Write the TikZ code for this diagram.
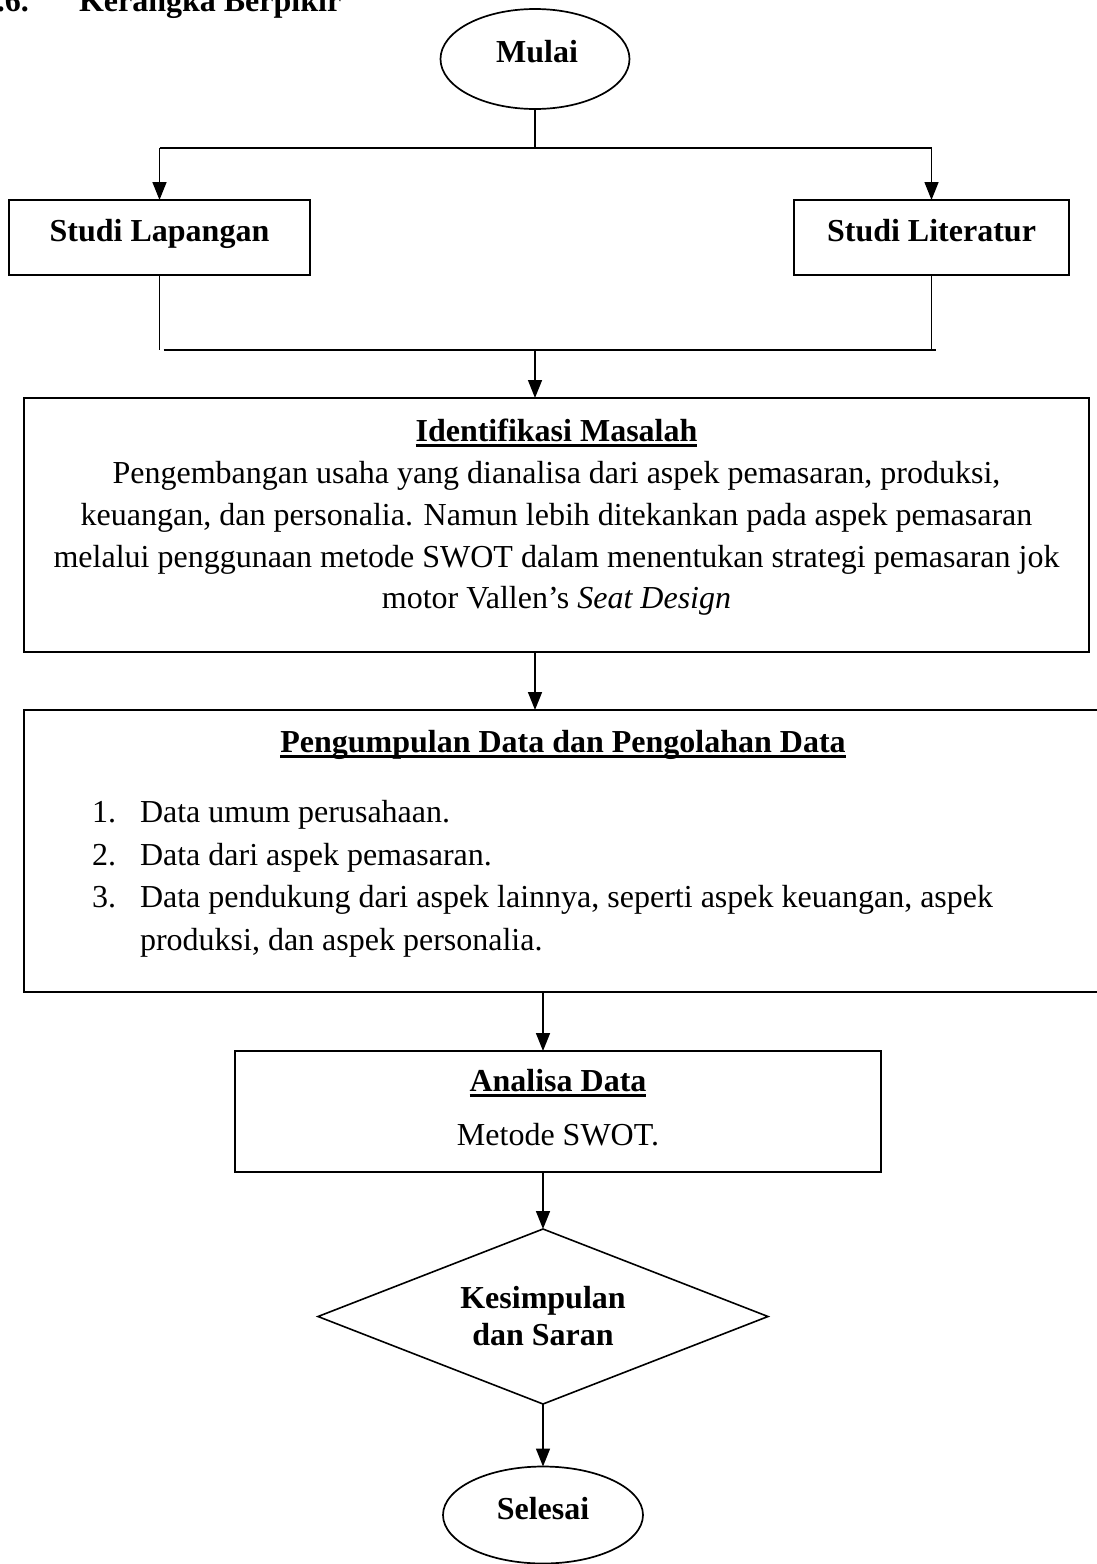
\documentclass[tikz,border=0pt]{standalone}
\usepackage{fontspec}
\setmainfont{Liberation Serif}
\usetikzlibrary{arrows.meta,shapes.geometric}
% underline drawn as a thick rule under the word box
\newcommand{\ulbox}[1]{\setbox0\hbox{#1}\rlap{\rule[-5.5pt]{\wd0}{2.6pt}}\box0}
\begin{document}
\begin{tikzpicture}[x=1pt,y=-1pt,
  every node/.style={inner sep=0pt, outer sep=0pt},
  txt/.style={font=\fontsize{32}{42}\selectfont, anchor=base},
  txtb/.style={font=\fontsize{32}{42}\selectfont\bfseries, anchor=base},
  rectbox/.style={draw, rectangle, line width=2.1pt},
  ovalbox/.style={draw, ellipse, line width=1.7pt},
  decbox/.style={draw, diamond, line width=1.6pt},
  link/.style={line width=1.5pt},
  arrow/.style={line width=1.5pt, -{Triangle[length=18pt,width=14pt]}}]

\useasboundingbox (0,0) rectangle (1096,1564);

% heading
\node[txtb, anchor=base west] (hnum) at (-19,11) {2.6.};
\node[txtb, anchor=base west] (htitle) at (79,11) {Kerangka Berpikir};

% start
\node[ovalbox, minimum width=189pt, minimum height=100pt] (mulai) at (535,59) {};
\node[txtb] (mulaitx) at (537,62) {Mulai};

% two studies
\node[rectbox, minimum width=301pt, minimum height=75pt] (lap) at (159.5,237.5) {};
\node[txtb] (laptx) at (159.5,241) {Studi Lapangan};
\node[rectbox, minimum width=275pt, minimum height=75pt] (lit) at (931.5,237.5) {};
\node[txtb] (littx) at (931.5,241) {Studi Literatur};

\coordinate (split) at (535,148);
\coordinate (join) at (535,350);

\draw[link] (mulai.south) -- (split);
\draw[link] (lap.north |- split) -- (lit.north |- split);
\draw[arrow] (lap.north |- split) -- (lap.north);
\draw[arrow] (lit.north |- split) -- (lit.north);

\draw[link] (lap.south) -- (lap.south |- join);
\draw[link] (lit.south) -- (lit.south |- join);
\draw[link] ([xshift=4pt]lap.south |- join) -- ([xshift=4pt]lit.south |- join);

% problem identification
\node[rectbox, minimum width=1065pt, minimum height=254pt] (iden) at (556.5,525) {};
\node[txtb] (iden0) at (556.5,441) {\ulbox{Identifikasi Masalah}};
\node[txt] (iden1) at (556.5,483) {Pengembangan usaha yang dianalisa dari aspek pemasaran, produksi,};
\node[txt] (iden2) at (556.5,525) {keuangan, dan personalia. Namun lebih ditekankan pada aspek pemasaran};
\node[txt] (iden3) at (556.5,567) {melalui penggunaan metode SWOT dalam menentukan strategi pemasaran jok};
\node[txt] (iden4) at (556.5,608) {motor Vallen’s \textit{Seat Design}};

\draw[arrow] (join) -- (iden.north -| join);

% data collection and processing
\node[rectbox, minimum width=1078pt, minimum height=282pt] (peng) at (563,851) {};
\node[txtb] (peng0) at (563,752) {\ulbox{Pengumpulan Data dan Pengolahan Data}};
\node[txt, anchor=base west] (pn1) at (92,822) {1.};
\node[txt, anchor=base west] (pt1) at (140,822) {Data umum perusahaan.};
\node[txt, anchor=base west] (pn2) at (92,865) {2.};
\node[txt, anchor=base west] (pt2) at (140,865) {Data dari aspek pemasaran.};
\node[txt, anchor=base west] (pn3) at (92,907) {3.};
\node[txt, anchor=base west] (pt3) at (140,907) {Data pendukung dari aspek lainnya, seperti aspek keuangan, aspek};
\node[txt, anchor=base west] (pt4) at (140,950) {produksi, dan aspek personalia.};

\draw[arrow] (iden.south -| join) -- (peng.north -| join);

% analysis
\node[rectbox, minimum width=646pt, minimum height=121pt] (ana) at (558,1111.5) {};
\node[txtb] (ana0) at (558,1091) {\ulbox{Analisa Data}};
\node[txt] (ana1) at (558,1145) {Metode SWOT.};

% conclusion
\node[decbox, minimum width=450pt, minimum height=175pt] (dec) at (543,1316.5) {};
\node[txtb] (dec1) at (543,1308) {Kesimpulan};
\node[txtb] (dec2) at (543,1345) {dan Saran};

% end
\node[ovalbox, minimum width=200pt, minimum height=97pt] (sel) at (543,1515) {};
\node[txtb] (seltx) at (543,1519) {Selesai};

\draw[arrow] (peng.south -| dec) -- (ana.north -| dec);
\draw[arrow] (ana.south -| dec) -- (dec.north);
\draw[arrow] (dec.south) -- (sel.north -| dec);
\end{tikzpicture}
\end{document}
